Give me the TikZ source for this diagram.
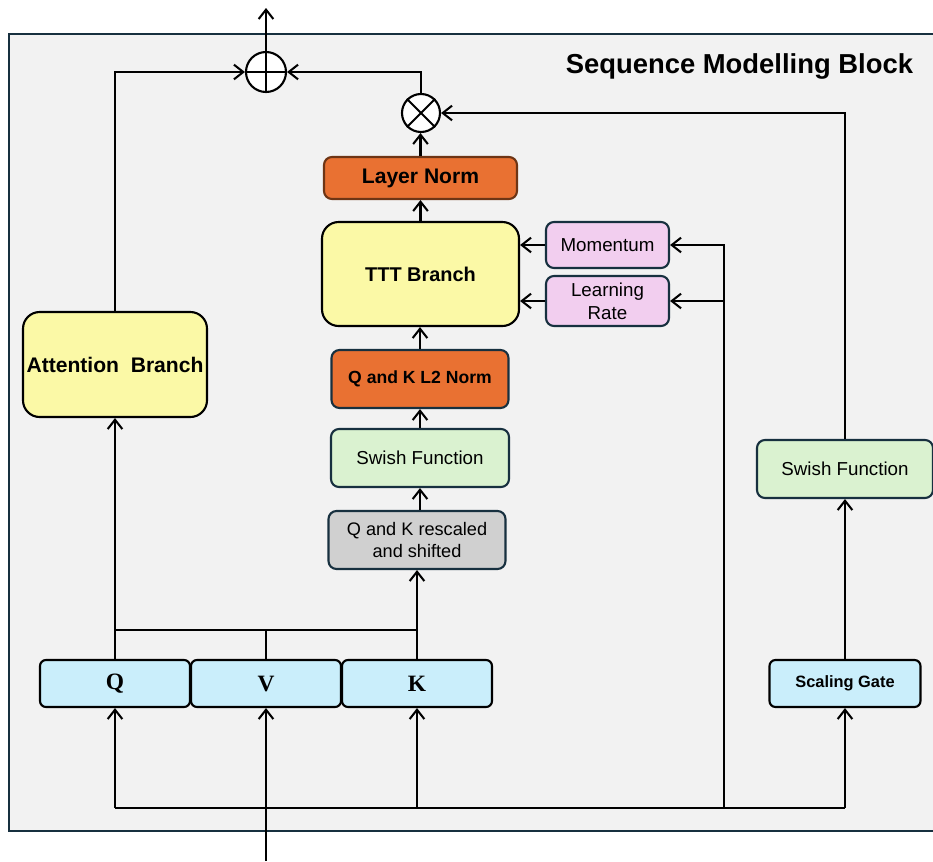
\documentclass[tikz,border=0pt]{standalone}
\usepackage{fontspec}
\setmainfont{Liberation Sans}
\newfontfamily\qvkfont{Liberation Serif}
\usetikzlibrary{arrows.meta}
\definecolor{framefill}{HTML}{F2F2F2}
\definecolor{navy}{HTML}{17303F}
\definecolor{brbyellow}{HTML}{FBF9A6}
\definecolor{brborange}{HTML}{E97132}
\definecolor{brbbrown}{HTML}{6E3515}
\definecolor{brbpink}{HTML}{F2CEEF}
\definecolor{brbgreen}{HTML}{DAF2D0}
\definecolor{brbgray}{HTML}{D0D0D0}
\definecolor{brbblue}{HTML}{CAEEFB}
\begin{document}
\begin{tikzpicture}[x=0.03cm, y=-0.03cm, line width=1.75pt,
      >={Straight Barb[length=2.8mm,width=4.4mm,line width=1.75pt]},
      font=\fontsize{16}{19.5}\selectfont,
      box/.style={draw, rounded corners=0.24cm, align=center, inner sep=2pt, line width=1.8pt},
      branch/.style={box, draw=black, fill=brbyellow, rounded corners=0.5cm, font=\fontsize{18}{21}\selectfont\bfseries},
      norm/.style={box, draw=brbbrown, fill=brborange, font=\fontsize{18}{21}\selectfont\bfseries},
      param/.style={box, draw=navy, fill=brbpink, minimum width=3.69cm},
      swish/.style={box, draw=navy, fill=brbgreen, minimum height=1.74cm},
      proj/.style={box, draw=black, fill=brbblue, rounded corners=0.18cm, minimum height=1.41cm},
      op/.style={circle, draw=black, fill=white, inner sep=0pt, line width=1.8pt}]
    \useasboundingbox (0,0) rectangle (933,861);
    \clip (0,0) rectangle (933,861);
    \draw[navy, fill=framefill, line width=1.8pt] (9,34) rectangle (950,831);
    \node[anchor=east, font=\fontsize{23.4}{27}\selectfont\bfseries] (title) at (918,66) {Sequence Modelling Block};
    % operators
    \node[op, minimum size=1.2cm] (plus) at (266,72) {};
    \draw (plus.north) -- (plus.south) (plus.west) -- (plus.east);
    \node[op, minimum size=1.14cm] (times) at (421,113) {};
    \draw (times.north west) -- (times.south east) (times.north east) -- (times.south west);
    \coordinate (out) at (266,8);
    \coordinate (in) at (266,861);
    % TTT path
    \node[norm, minimum width=5.79cm, minimum height=1.26cm] (ln) at (420.5,178) {Layer Norm};
    \node[branch, minimum width=5.91cm, minimum height=3.12cm, font=\fontsize{17}{20}\selectfont\bfseries] (ttt) at (420.5,274) {TTT Branch};
    \node[param, minimum height=1.38cm] (mom) at (607.5,245) {Momentum};
    \node[param, minimum height=1.5cm] (lr) at (607.5,301) {Learning\\Rate};
    \node[norm, draw=navy, minimum width=5.31cm, minimum height=1.74cm, font=\fontsize{15}{18}\selectfont\bfseries] (l2) at (420,379) {Q and K L2 Norm};
    \node[swish, minimum width=5.34cm] (swm) at (420,458) {Swish Function};
    \node[box, draw=navy, fill=brbgray, minimum width=5.31cm, minimum height=1.74cm, font=\fontsize{15.5}{19}\selectfont] (resc) at (417,540) {Q and K rescaled\\and shifted};
    % attention and gate
    \node[branch, minimum width=5.52cm, minimum height=3.15cm] (attn) at (115,364.5) {Attention~~Branch};
    \node[swish, minimum width=5.28cm] (swr) at (845,469) {Swish Function};
    \node[proj, minimum width=4.53cm, font=\fontsize{14}{16}\selectfont\bfseries] (sg) at (845,683.5) {Scaling Gate};
    \node[proj, minimum width=4.5cm, font=\fontsize{20}{22}\selectfont\qvkfont\bfseries] (q) at (115,683.5) {Q};
    \node[proj, minimum width=4.5cm, font=\fontsize{20}{22}\selectfont\qvkfont\bfseries] (v) at (266,683.5) {V};
    \node[proj, minimum width=4.5cm, font=\fontsize{20}{22}\selectfont\qvkfont\bfseries] (k) at (417,683.5) {K};
    % connectors
    \draw[->] (plus) -- (out);
    \draw[->] (attn) |- (plus);
    \draw[->] (times) |- (plus);
    \draw[->] (swr) |- (times);
    \draw[->] (ln) -- (times.south -| ln.north);
    \draw[->] (ttt) -- (ln);
    \draw[->] (l2) -- (l2.north |- ttt.south);
    \draw[->] (swm) -- (l2);
    \draw[->] (swm.south |- resc.north) -- (swm);
    \draw[->] (mom) -- (mom.west -| ttt.east);
    \draw[->] (lr) -- (lr.west -| ttt.east);
    \coordinate (qk) at (115,630);
    \coordinate (kk) at (417,630);
    \draw (q) -- (qk) -- (kk);
    \draw (v) -- (v.north |- qk);
    \draw[->] (qk) -- (attn);
    \draw[->] (k) -- (resc);
    \draw[->] (sg) -- (swr);
    \coordinate (busl) at (115,808);
    \coordinate (busr) at (845,808);
    \coordinate (tap) at (724,808);
    \draw (busl) -- (busr);
    \draw[->] (in) -- (v);
    \draw[->] (busl) -- (q);
    \draw[->] (k.south |- busl) -- (k);
    \draw[->] (busr) -- (sg);
    \draw[->] (tap) |- (mom);
    \draw[->] (tap |- lr.east) -- (lr);
\end{tikzpicture}
\end{document}
